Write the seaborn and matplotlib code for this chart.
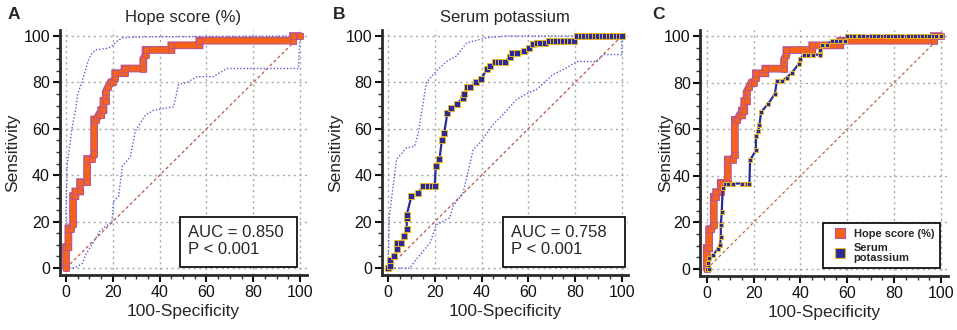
import matplotlib
matplotlib.use("Agg")
import matplotlib.patheffects as pe
import matplotlib.pyplot as plt
import seaborn as sns
from matplotlib.lines import Line2D
from matplotlib.patches import Rectangle
from matplotlib.ticker import MultipleLocator

# ROC for hope score (%), panels A and C
hope_fpr = [0, 0, 1, 1, 2, 3, 3, 4, 4, 6, 6, 9, 9, 11, 12, 12, 13, 14, 15, 15,
            16, 16, 17, 17, 18, 19, 20, 21, 21, 25, 25, 33, 33, 34, 34, 45, 45,
            57, 57, 97, 97, 100]
hope_sens = [0, 9, 9, 17, 17, 19, 31, 31, 33, 33, 37, 37, 47, 47, 49, 64, 64,
             66, 66, 68, 68, 72, 72, 76, 78, 80, 80, 82, 84, 84, 86, 86, 90, 92,
             94, 94, 96, 96, 98, 98, 100, 100]
hope_ci_hi_x = [0, 0, 0.5, 1.5, 2.5, 4, 5, 7, 8.5, 9.5, 11, 12.5, 18, 20, 22, 24, 30, 60, 100]
hope_ci_hi_y = [0, 25, 45, 52, 60, 68, 75, 81, 86, 89.5, 92.5, 94, 94.7, 96, 98, 99.2, 99.6, 99.8, 100]
hope_ci_lo_x = [0, 3, 4.5, 7, 8.5, 11, 14.5, 17, 19.6, 20.3, 22.5, 24, 27.5, 29.6,
                34, 37.4, 46, 48, 51.6, 56, 63, 68.7, 99.3, 100]
hope_ci_lo_y = [0, 0, 0.5, 2, 6, 10, 16, 18, 20, 28.7, 31, 43.8, 48, 59,
                66, 68, 69.5, 79, 80, 82.5, 82.5, 86, 86, 100]

# ROC for serum potassium, panel B
pot_fpr = [0, 1, 1, 2.5, 4, 4, 5.5, 7, 8, 8, 8, 10, 13, 15, 17, 19, 20, 20.4, 22,
           23, 24, 25.4, 27, 29.3, 32, 32.3, 33.6, 35, 37.6, 39.7, 42.5, 43.6,
           45.7, 47, 48.5, 50, 52, 53, 55, 58, 60.4, 62, 63.6, 65, 67, 69, 70.5,
           72, 73.5, 75, 76.5, 78, 79.5, 81, 82.5, 84, 85.5, 87, 88.5, 90, 91.5,
           93, 94.5, 96, 97.5, 99, 100]
pot_sens = [0, 1, 3.5, 5, 8, 11, 11, 14, 17, 21.5, 23, 31, 32.5, 35.5, 35.5, 35.5,
            35.5, 44, 47, 55, 58, 67, 69, 70.5, 73.5, 75, 78, 78, 80, 81.3, 86,
            87, 89, 89, 89, 89, 91, 92.5, 92.5, 93.5, 95, 96.5, 97, 97, 97, 98,
            98, 98, 98, 98, 98, 98, 98, 100, 100, 100, 100, 100, 100, 100, 100,
            100, 100, 100, 100, 100, 100]
pot_ci_hi_x = [0, 0.5, 3.6, 7.9, 11.4, 12.9, 16.4, 20.7, 25, 29.3, 33.6, 42, 50.7, 100]
pot_ci_hi_y = [0, 22, 46.8, 51.8, 52.5, 58, 80, 85, 89, 91.4, 97, 99.3, 100, 100]
pot_ci_lo_x = [0, 9.3, 12, 17.9, 20.7, 26.4, 28, 32, 36.4, 39.3, 45, 48.6, 55,
               58.6, 63.6, 70.7, 76.4, 80.7, 89.3, 92, 100, 100]
pot_ci_lo_y = [0, 0, 3.6, 10.8, 18.7, 21.6, 27, 32, 51, 54, 62, 65.5, 72.7,
               74.8, 77, 83.5, 86.3, 89, 89, 92, 92, 100]

# serum potassium curve in the comparison panel C
cmp_fpr = [0, 1, 0.7, 1, 2.8, 4.6, 5.7, 6, 6, 6.4, 6.8, 7.8, 9.2, 11.4, 14.9,
           17.1, 18.2, 18.5, 21, 21, 22, 22.5, 23.2, 26.3, 29.1, 29.9, 32, 34.1,
           36.3, 39.4, 39.8, 41.3, 43.4, 45.5, 48.4, 48.4, 49, 51.2, 53.3, 55,
           57, 59, 59.7, 61.5, 63, 65, 66.5, 70, 71.5, 73, 76, 77.5, 79, 80.5,
           82, 83.5, 86, 87.5, 89, 90.5, 92, 93.5, 95, 96.5, 98, 99.5, 100]
cmp_sens = [0, 0, 2.6, 4.7, 6, 8.6, 10.3, 13.8, 18.9, 24.6, 34.6, 36.7, 36.7,
            36.7, 36.7, 36.7, 36.7, 46.7, 51, 57, 59.3, 62, 67.4, 71, 75.3, 80.6,
            80.6, 82.2, 84.2, 88.2, 90, 92, 92, 92, 92, 94.2, 96, 96, 98, 98, 98,
            98, 100, 100, 100, 100, 100, 100, 100, 100, 100, 100, 100, 100, 100,
            100, 100, 100, 100, 100, 100, 100, 100, 100, 100, 100, 100]

titles = ["Hope score (%)", "Serum potassium", ""]
letters = ["A", "B", "C"]
auc_lines = ["AUC = 0.850\nP < 0.001", "AUC = 0.758\nP < 0.001"]
legend_labels = ["Hope score (%)", "Serum\npotassium"]

ORANGE = "#f5621c"
PURPLE = "#b4529a"
NAVY = "#2b2b98"
GOLD = "#e6b62a"
CI_BLUE = "#5c5cd2"
DIAG = "#c2564e"

sns.set_style("ticks")
plt.rcParams["font.family"] = ["Liberation Sans", "DejaVu Sans"]

fig = plt.figure(figsize=(9.57, 3.30), dpi=100)
positions = [
    [0.0624, 0.1667, 0.2580, 0.7424],
    [0.3989, 0.1667, 0.2577, 0.7424],
    [0.7319, 0.1636, 0.2583, 0.7455],
]
axes = [fig.add_axes(p) for p in positions]


def style_axes(ax, ylab_x):
    ax.set_xlim(-2.7, 102.8)
    ax.set_ylim(-3, 102.6)
    ax.xaxis.set_major_locator(MultipleLocator(20))
    ax.yaxis.set_major_locator(MultipleLocator(20))
    ax.xaxis.set_minor_locator(MultipleLocator(5))
    ax.yaxis.set_minor_locator(MultipleLocator(5))
    ax.grid(True, which="major", color="#a8a8a8", linestyle=(0, (1.5, 2.5)), lw=1)
    ax.set_axisbelow(True)
    for s in ["top", "right"]:
        ax.spines[s].set_visible(False)
    for s in ["left", "bottom"]:
        ax.spines[s].set_linewidth(2)
        ax.spines[s].set_color("#2a2a2a")
    ax.tick_params(which="major", direction="out", length=5, width=1.5,
                   labelsize=11.5, pad=2, colors="#111111")
    ax.tick_params(which="minor", direction="out", length=3, width=1, colors="#333333")
    ax.set_xlabel("100-Specificity", fontsize=12.5)
    ax.set_ylabel("Sensitivity", fontsize=12.5)
    ax.xaxis.set_label_coords(0.5, -0.118)
    ax.yaxis.set_label_coords(ylab_x, 0.5)


def diag(ax, color):
    sns.lineplot(x=[0, 100], y=[0, 100], ax=ax, color=color, lw=0.9,
                 linestyle=(0, (2.5, 2)), sort=False, estimator=None)


def ci(ax, x, y):
    sns.lineplot(x=x, y=y, ax=ax, color=CI_BLUE, lw=1.0,
                 linestyle=(0, (1, 1.4)), sort=False, estimator=None)


def hope_curve(ax):
    sns.lineplot(x=hope_fpr, y=hope_sens, ax=ax, color=ORANGE, lw=4.2,
                 sort=False, estimator=None, solid_joinstyle="miter",
                 path_effects=[pe.Stroke(linewidth=5.6, foreground=PURPLE), pe.Normal()])
    sns.lineplot(x=hope_fpr, y=hope_sens, ax=ax, lw=0, marker="s", markersize=3.8,
                 markerfacecolor=ORANGE, markeredgecolor=PURPLE, markeredgewidth=0.5,
                 sort=False, estimator=None)


def navy_curve(ax, x, y, ms):
    sns.lineplot(x=x, y=y, ax=ax, color=NAVY, lw=1.6, marker="s", markersize=ms,
                 markerfacecolor=NAVY, markeredgecolor=GOLD, markeredgewidth=0.7,
                 sort=False, estimator=None)


def auc_box(ax, x0, width, text):
    ax.add_patch(Rectangle((x0, 0.4), width, 21.6, facecolor="white",
                           edgecolor="#111111", lw=1.3, zorder=5))
    ax.text(x0 + 3.6, 11.6, text, fontsize=12, va="center", ha="left",
            linespacing=1.2, zorder=6)


# panel A
ax = axes[0]
style_axes(ax, -0.159)
diag(ax, DIAG)
ci(ax, hope_ci_hi_x, hope_ci_hi_y)
ci(ax, hope_ci_lo_x, hope_ci_lo_y)
hope_curve(ax)
auc_box(ax, 48.7, 50.0, auc_lines[0])

# panel B
ax = axes[1]
style_axes(ax, -0.155)
diag(ax, DIAG)
ci(ax, pot_ci_hi_x, pot_ci_hi_y)
ci(ax, pot_ci_lo_x, pot_ci_lo_y)
navy_curve(ax, pot_fpr, pot_sens, 4.0)
auc_box(ax, 49.2, 52.0, auc_lines[1])

# panel C
ax = axes[2]
style_axes(ax, -0.109)
diag(ax, "#b8704e")
hope_curve(ax)
navy_curve(ax, cmp_fpr, cmp_sens, 3.3)
handles = [
    Line2D([], [], ls="", marker="s", markersize=7, markerfacecolor=ORANGE,
           markeredgecolor=PURPLE, markeredgewidth=0.8),
    Line2D([], [], ls="", marker="s", markersize=7, markerfacecolor=NAVY,
           markeredgecolor=GOLD, markeredgewidth=0.8),
]
leg = ax.legend(handles, legend_labels, loc="lower right", fancybox=False,
                prop={"size": 8.0, "weight": "bold"}, borderaxespad=0.7,
                handletextpad=0.25, handlelength=2.0, labelspacing=0.4,
                borderpad=0.5, framealpha=1)
for t in leg.get_texts():
    t.set_linespacing(0.95)
leg.get_frame().set_edgecolor("#111111")
leg.get_frame().set_linewidth(1.3)
leg.set_zorder(7)

for ax, t in zip(axes, titles):
    if t:
        ax.set_title(t, fontsize=12, pad=6)

letter_x = [0.008, 0.348, 0.682]
for lx, lt in zip(letter_x, letters):
    fig.text(lx, 0.98, lt, fontsize=12.5, fontweight="bold", va="top", ha="left")

fig.savefig("out.png", dpi=100)
